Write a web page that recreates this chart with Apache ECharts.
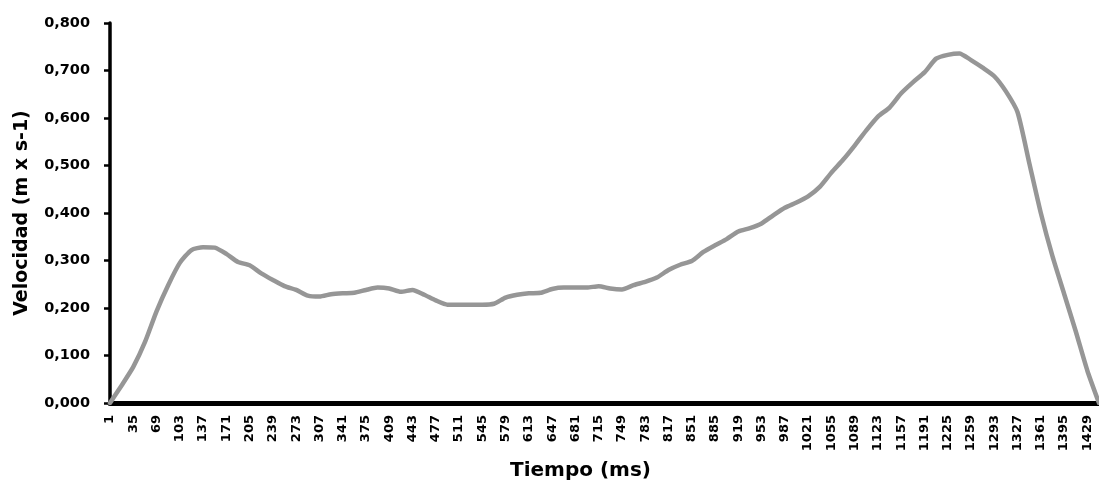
<!DOCTYPE html>
<html>
<head>
<meta charset="utf-8">
<script src="https://cdn.jsdelivr.net/npm/echarts@6/dist/echarts.min.js"></script>
<style>
  html, body { margin: 0; padding: 0; background: #fff; }
  #chart { width: 1099px; height: 485px; }
</style>
</head>
<body>
<div id="chart"></div>
<script>
// Time samples (ms); every other one carries an axis label
const tiempo = [
  1, 18, 35, 52, 69, 86, 103, 120, 137, 154, 171, 188, 205, 222, 239, 256, 273, 290,
  307, 324, 341, 358, 375, 392, 409, 426, 443, 460, 477, 494, 511, 528, 545, 562,
  579, 596, 613, 630, 647, 664, 681, 698, 715, 732, 749, 766, 783, 800, 817, 834,
  851, 868, 885, 902, 919, 936, 953, 970, 987, 1004, 1021, 1038, 1055, 1072, 1089,
  1106, 1123, 1140, 1157, 1174, 1191, 1208, 1225, 1242, 1259, 1276, 1293, 1310,
  1327, 1344, 1361, 1378, 1395, 1412, 1429, 1446
];

// Velocity (m x s-1) at each time sample
const velocidad = [
  0.000, 0.037, 0.076, 0.128, 0.193, 0.248, 0.295, 0.322, 0.328, 0.327, 0.314, 0.297,
  0.290, 0.273, 0.259, 0.246, 0.238, 0.226, 0.224, 0.229, 0.231, 0.232, 0.238, 0.243,
  0.241, 0.234, 0.238, 0.228, 0.216, 0.207, 0.207, 0.207, 0.207, 0.209, 0.222, 0.228,
  0.231, 0.232, 0.240, 0.243, 0.243, 0.243, 0.246, 0.241, 0.239, 0.248, 0.255, 0.264,
  0.280, 0.291, 0.299, 0.318, 0.332, 0.345, 0.361, 0.368, 0.378, 0.395, 0.411, 0.422,
  0.435, 0.455, 0.485, 0.512, 0.542, 0.574, 0.603, 0.622, 0.652, 0.675, 0.696, 0.725,
  0.733, 0.736, 0.722, 0.706, 0.688, 0.656, 0.612, 0.506, 0.400, 0.309, 0.230, 0.151,
  0.068, 0.000
];

const yMin = 0, yMax = 0.8, yStep = 0.1;
const ejeX = 'Tiempo (ms)';
const ejeY = 'Velocidad (m x s-1)';

const font = 'DejaVu Sans';
const chart = echarts.init(document.getElementById('chart'), null, { renderer: 'canvas' });

chart.setOption({
  animation: false,
  backgroundColor: '#ffffff',
  // the time axis runs on a little past the right edge of the page
  grid: { left: 110, right: -8, top: 23, bottom: 82, containLabel: false },
  xAxis: {
    type: 'category',
    data: tiempo,
    boundaryGap: false,
    axisLine: { lineStyle: { color: '#000', width: 5 } },
    axisTick: { show: false },
    axisLabel: {
      interval: 1,
      rotate: 90,
      margin: 12,
      color: '#000',
      fontFamily: font,
      fontWeight: 'bold',
      fontSize: 13
    },
    splitLine: { show: false }
  },
  yAxis: {
    type: 'value',
    min: yMin,
    max: yMax,
    interval: yStep,
    name: ejeY,
    nameLocation: 'middle',
    nameGap: 78,
    nameRotate: 90,
    nameTextStyle: { color: '#000', fontFamily: font, fontWeight: 'bold', fontSize: 19 },
    axisLine: { show: true, lineStyle: { color: '#000', width: 3.5 } },
    axisTick: { show: true, inside: false, length: 6, lineStyle: { color: '#000', width: 2.5 } },
    axisLabel: {
      margin: 20,
      color: '#000',
      fontFamily: font,
      fontWeight: 'bold',
      fontSize: 14.5,
      formatter: v => v.toFixed(3).replace('.', ',')
    },
    splitLine: { show: false }
  },
  graphic: [{
    type: 'text',
    left: 510,
    top: 461,
    style: {
      text: ejeX,
      fill: '#000',
      font: 'bold 20px "DejaVu Sans"'
    }
  }],
  series: [{
    type: 'line',
    data: velocidad,
    smooth: 0.2,
    showSymbol: false,
    lineStyle: { color: '#969696', width: 4.5, cap: 'round', join: 'round' },
    z: 1
  }]
});
</script>
</body>
</html>
